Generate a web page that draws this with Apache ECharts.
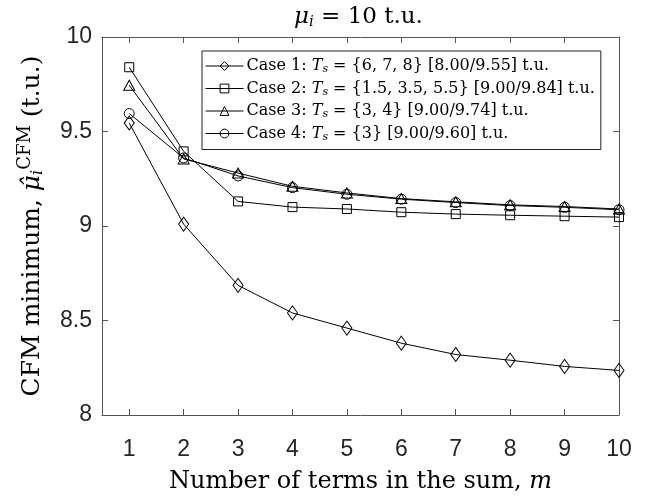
<!DOCTYPE html>
<html><head><meta charset="utf-8">
<script src="https://cdn.jsdelivr.net/npm/echarts@6/dist/echarts.min.js"></script>
<style>html,body{margin:0;padding:0;background:#fff}#c{width:651px;height:499px}</style>
</head><body><div id="c"></div>
<script>
const mValues = [1,2,3,4,5,6,7,8,9,10];
const case1 = [9.545, 9.01, 8.686, 8.54, 8.46, 8.38, 8.32, 8.29, 8.257, 8.236];
const case2 = [9.84, 9.395, 9.13, 9.10, 9.09, 9.073, 9.063, 9.057, 9.052, 9.047];
const case3 = [9.745, 9.355, 9.28, 9.21, 9.175, 9.145, 9.128, 9.112, 9.103, 9.09];
const case4 = [9.595, 9.36, 9.265, 9.203, 9.168, 9.142, 9.124, 9.108, 9.099, 9.086];
const yTicks = [8, 8.5, 9, 9.5, 10];
const seriesNames = ['Case 1','Case 2','Case 3','Case 4'];
const legendTexts = {
  'Case 1': ['{6, 7, 8}', '[8.00/9.55]'],
  'Case 2': ['{1.5, 3.5, 5.5}', '[9.00/9.84]'],
  'Case 3': ['{3, 4}', '[9.00/9.74]'],
  'Case 4': ['{3}', '[9.00/9.60]']
};

const chart = echarts.init(document.getElementById('c'), null, {renderer:'canvas'});
const serif = 'DejaVu Serif';
const sans = 'Liberation Sans';
const pair = arr => arr.map((v,i)=>[mValues[i], v]);
const symbols = [['diamond',[10,14]],['rect',[9,9]],['triangle',[11,10]],['circle',[10,10]]];
const datas = [case1, case2, case3, case4];

const series = datas.map((d,i)=>({
  name: seriesNames[i], type:'line', data: pair(d),
  symbol: symbols[i][0], symbolSize: symbols[i][1],
  showSymbol: true, animation:false,
  lineStyle:{color:'#000', width:1},
  itemStyle:{color:'rgba(255,255,255,0)', borderColor:'#000', borderWidth:1},
  emphasis:{disabled:true}, z: 5 - i
}));

const axisCommon = {
  type:'value', min:0.5, max:10,
  axisLine:{show:true, onZero:false, lineStyle:{color:'#555', width:1}},
  axisTick:{show:true, inside:true, length:6, customValues: mValues, lineStyle:{color:'#555'}},
  splitLine:{show:false}
};
const yCommon = {
  type:'value', min:8, max:10, interval:0.5,
  axisLine:{show:true, onZero:false, lineStyle:{color:'#555', width:1}},
  axisTick:{show:true, inside:true, length:6, lineStyle:{color:'#555'}},
  splitLine:{show:false}
};

chart.setOption({
  backgroundColor:'#fff',
  animation:false,
  title:{
    text:'{m|μ}{s|i}{n| = 10 t.u.}', left:289, top:0,
    textStyle:{rich:{
      m:{fontFamily:serif, fontStyle:'italic', fontWeight:'normal', fontSize:23, color:'#000'},
      s:{fontFamily:serif, fontStyle:'italic', fontWeight:'normal', fontSize:15, color:'#000', padding:[10,0,0,0]},
      n:{fontFamily:serif, fontWeight:'normal', fontSize:23, color:'#000'}
    }}
  },
  grid:{left:102, right:32, top:37, bottom:80, containLabel:false},
  xAxis:[
    Object.assign({}, axisCommon, {
      position:'bottom',
      name:'{t|Number of terms in the sum, }{m|m}', nameLocation:'middle', nameGap:55,
      nameTextStyle:{rich:{
        t:{fontFamily:serif, fontSize:24, color:'#000'},
        m:{fontFamily:serif, fontStyle:'italic', fontSize:24, color:'#000'}
      }},
      axisLabel:{show:true, customValues: mValues, fontFamily:sans, fontSize:23, color:'#262626', margin:23}
    }),
    Object.assign({}, axisCommon, {position:'top', axisLabel:{show:false}})
  ],
  yAxis:[
    Object.assign({}, yCommon, {
      position:'left',
      name:'{t|CFM minimum, }{m|μ̂}{s|i}{p|CFM}{t| (t.u.)}', nameLocation:'middle', nameGap:53, nameRotate:90,
      nameTextStyle:{rich:{
        t:{fontFamily:serif, fontSize:25, color:'#000'},
        m:{fontFamily:serif, fontStyle:'italic', fontSize:25, color:'#000'},
        s:{fontFamily:serif, fontStyle:'italic', fontSize:16, color:'#000', padding:[11,0,0,0]},
        p:{fontFamily:serif, fontSize:18, color:'#000', padding:[0,0,15,0]}
      }},
      axisLabel:{show:true, fontFamily:sans, fontSize:23, color:'#262626', margin:10,
        customValues: yTicks}
    }),
    Object.assign({}, yCommon, {position:'right', axisLabel:{show:false}})
  ],
  legend:{
    orient:'vertical', left:202, top:51, data: seriesNames,
    backgroundColor:'#fff', borderColor:'#222', borderWidth:1,
    padding:[7,6,7,3], itemGap:5.5, itemWidth:38, itemHeight:11,
    selectedMode:false,
    itemStyle:{color:'rgba(255,255,255,0)', borderColor:'#000', borderWidth:1},
    lineStyle:{color:'#000', width:1},
    formatter: function(name){
      const t = legendTexts[name];
      return name + ': {it|T}{sub|s} = ' + t[0] + ' ' + t[1] + ' t.u.';
    },
    textStyle:{fontFamily:serif, fontSize:16, color:'#000', padding:[0,0,0,-2], rich:{
      it:{fontFamily:serif, fontStyle:'italic', fontSize:16, color:'#000'},
      sub:{fontFamily:serif, fontStyle:'italic', fontSize:11, color:'#000', padding:[7,0,0,0]}
    }}
  },
  series: series
});
</script></body></html>
